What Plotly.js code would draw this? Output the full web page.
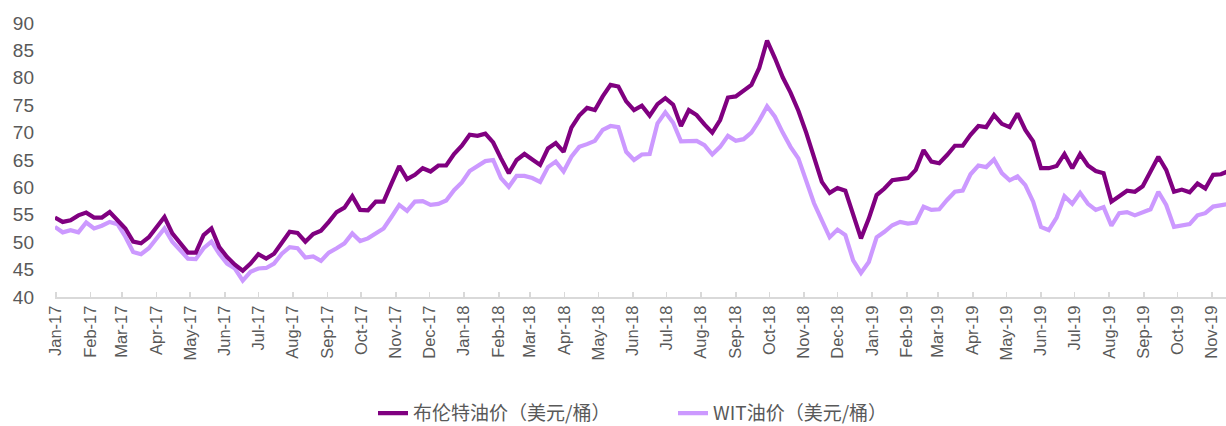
<!DOCTYPE html>
<html>
<head>
<meta charset="utf-8">
<script src="https://cdn.plot.ly/plotly-3.0.1.min.js"></script>
<style>
html,body{margin:0;padding:0;background:#fff;}
#chart{width:1226px;height:426px;}
</style>
</head>
<body>
<div id="chart"></div>
<script>
// Weekly series, first week starting 2016-12-31
var startDate = '2016-12-31';
var seriesNames = ['布伦特油价（美元/桶）', 'WIT油价（美元/桶）'];

var brent = [
  54.5,53.7,54.0,54.9,55.4,54.5,54.5,55.5,54.0,52.5,
  50.1,49.8,50.9,52.9,54.6,51.6,49.8,48.1,48.1,51.3,
  52.5,49.1,47.3,45.9,44.8,46.1,47.8,47.0,47.9,49.8,
  51.9,51.7,50.1,51.5,52.1,53.7,55.5,56.3,58.4,55.9,
  55.8,57.4,57.4,60.7,63.9,61.5,62.3,
  63.5,62.9,64.0,64.0,66.1,67.6,69.6,69.4,69.8,68.2,
  65.3,62.6,65.0,66.1,65.1,64.1,67.1,68.1,66.5,70.9,
  73.1,74.5,74.1,76.6,78.7,78.4,75.7,74.1,74.9,73.1,
  75.2,76.3,75.1,71.2,74.1,73.2,71.5,70.0,72.3,76.4,
  76.6,77.7,78.7,81.8,86.8,83.6,80.1,77.3,
  74.0,70.0,65.3,61.0,59.0,59.9,59.4,54.9,50.7,54.3,
  58.6,59.8,61.3,61.5,61.7,63.2,66.8,64.7,64.4,65.9,
  67.6,67.6,69.6,71.2,71.0,73.2,71.6,71.0,73.5,70.5,
  68.4,63.5,63.5,63.9,66.1,63.5,66.1,64.0,63.0,62.6,
  57.4,58.4,59.4,59.2,60.2,62.9,65.6,63.2,59.2,59.6,
  59.1,60.7,59.8,62.3,62.4,63.0
];

var wti = [
  52.8,51.8,52.2,51.8,53.6,52.5,53.0,53.7,53.3,51.0,
  48.2,47.8,48.9,50.7,52.5,50.1,48.5,47.0,46.9,48.9,
  50.1,47.9,46.1,45.2,43.0,44.6,45.2,45.3,46.1,47.9,
  49.1,48.9,47.2,47.4,46.6,48.1,48.9,49.8,51.6,50.2,
  50.7,51.6,52.5,54.6,56.8,55.7,57.4,
  57.5,56.8,57.0,57.6,59.5,60.9,63.0,63.8,64.8,65.0,
  61.7,60.1,62.1,62.1,61.7,61.0,63.7,64.7,62.9,65.6,
  67.4,67.9,68.5,70.5,71.2,71.0,66.5,65.0,66.0,66.1,
  71.7,73.7,71.8,68.4,68.5,68.5,67.7,66.0,67.4,69.4,
  68.5,68.8,70.0,72.2,74.8,72.9,70.0,67.4,
  65.3,61.3,57.1,54.0,50.9,52.3,51.3,46.7,44.4,46.4,
  50.9,51.9,53.1,53.7,53.4,53.6,56.5,55.9,56.0,57.7,
  59.2,59.4,62.4,64.0,63.7,65.1,62.6,61.3,62.0,60.4,
  57.4,52.8,52.2,54.5,58.4,57.0,59.0,57.0,55.9,56.4,
  53.0,55.3,55.5,54.9,55.4,56.0,59.2,56.8,52.8,53.0,
  53.3,54.9,55.3,56.5,56.8,57.0
];

var yTicks = [40,45,50,55,60,65,70,75,80,85,90];

// weekly dates (x positions of the weekly observations)
var dates = [];
(function(){
  var d0 = new Date(startDate + 'T00:00:00Z');
  for (var i = 0; i < brent.length; i++) {
    var d = new Date(d0.getTime() + i * 7 * 86400000);
    dates.push(d.toISOString().slice(0,10));
  }
})();

var font = '"Liberation Sans", Arial, "Noto Sans CJK SC", sans-serif';

var traces = [
  {x: dates, y: wti, name: seriesNames[1], type: 'scatter', mode: 'lines',
   line: {color: '#cc99ff', width: 4.2}},
  {x: dates, y: brent, name: seriesNames[0], type: 'scatter', mode: 'lines',
   line: {color: '#800080', width: 4.2}}
];

var layout = {
  width: 1226, height: 426,
  margin: {l: 55, r: 0, t: 23, b: 129},
  paper_bgcolor: '#ffffff', plot_bgcolor: '#ffffff',
  font: {family: font, color: '#595959'},
  showlegend: true,
  legend: {
    orientation: 'h', xref: 'container', yref: 'container',
    x: 373 / 1226, xanchor: 'left', y: 0.03, yanchor: 'middle',
    entrywidth: 255, entrywidthmode: 'pixels',
    font: {size: 19, color: '#595959', family: '"Noto Sans CJK SC", "Liberation Sans", sans-serif'},
    traceorder: 'reversed'
  },
  xaxis: {
    type: 'date',
    range: ['2016-12-31 02:00', '2019-11-13 12:00'],
    tick0: '2017-01-01', dtick: 'M1', tickformat: '%b-%y',
    tickangle: -90,
    tickfont: {size: 16.5, color: '#595959'},
    showgrid: false, zeroline: false,
    showline: true, linecolor: '#d9d9d9', linewidth: 2,
    ticks: 'inside', ticklen: 5, tickwidth: 1.5, tickcolor: '#d9d9d9',
    fixedrange: true
  },
  yaxis: {
    range: [40, 90],
    tickvals: yTicks,
    ticktext: yTicks.map(String),
    tickfont: {size: 19, color: '#595959'},
    showgrid: false, zeroline: false, showline: false,
    ticks: '', ticklabelstandoff: 20,
    fixedrange: true
  }
};

Plotly.newPlot('chart', traces, layout, {displayModeBar: false, staticPlot: true});
</script>
</body>
</html>
